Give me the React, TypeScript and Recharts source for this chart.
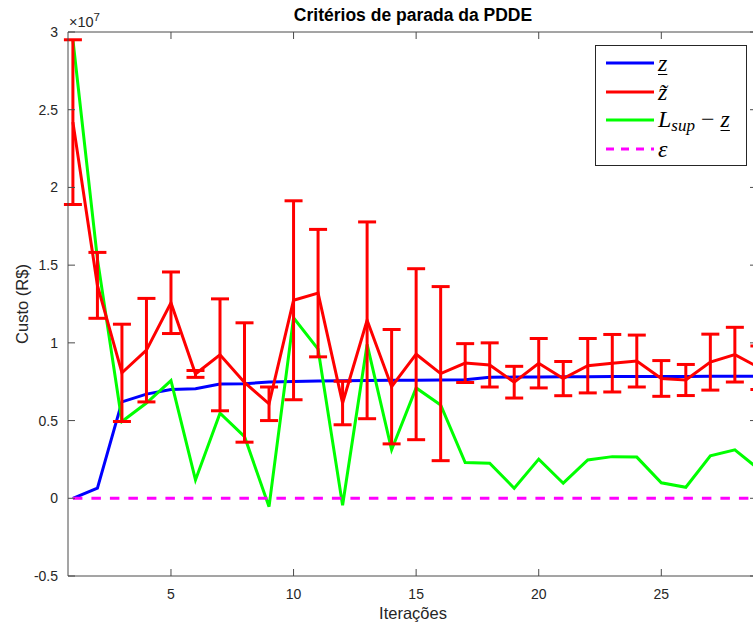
import React from 'react';
import { LineChart, Line, XAxis, YAxis, ErrorBar, ReferenceLine, Legend } from 'recharts';

// valores em unidades de 1e7 R$
const iterations = [1, 2, 3, 4, 5, 6, 7, 8, 9, 10, 11, 12, 13, 14, 15, 16, 17, 18, 19, 20, 21, 22, 23, 24, 25, 26, 27, 28, 29];
const zInf = [0, 0.065, 0.62, 0.67, 0.7, 0.705, 0.735, 0.737, 0.748, 0.752, 0.755, 0.756, 0.758, 0.76, 0.76, 0.761, 0.763, 0.778, 0.78, 0.781, 0.782, 0.782, 0.783, 0.783, 0.784, 0.784, 0.785, 0.785, 0.785];
const zTil = [2.42, 1.37, 0.807, 0.953, 1.258, 0.8, 0.923, 0.745, 0.608, 1.274, 1.32, 0.613, 1.145, 0.718, 0.927, 0.802, 0.87, 0.858, 0.747, 0.869, 0.77, 0.853, 0.869, 0.883, 0.771, 0.761, 0.876, 0.924, 0.84];
const zTilErr = [0.53, 0.212, 0.313, 0.333, 0.198, 0.022, 0.36, 0.384, 0.108, 0.64, 0.41, 0.14, 0.633, 0.368, 0.55, 0.56, 0.125, 0.142, 0.102, 0.159, 0.11, 0.175, 0.185, 0.167, 0.115, 0.1, 0.18, 0.176, 0.14];
const gap = [2.95, 1.54, 0.494, 0.613, 0.757, 0.118, 0.548, 0.397, -0.054, 1.161, 0.96, -0.045, 0.99, 0.312, 0.71, 0.6, 0.23, 0.226, 0.065, 0.252, 0.097, 0.247, 0.268, 0.265, 0.1, 0.071, 0.273, 0.312, 0.184];
const eps = [0, 0, 0, 0, 0, 0, 0, 0, 0, 0, 0, 0, 0, 0, 0, 0, 0, 0, 0, 0, 0, 0, 0, 0, 0, 0, 0, 0, 0];

const xTicks = [5, 10, 15, 20, 25];
const yTicks = [-0.5, 0, 0.5, 1, 1.5, 2, 2.5, 3];

const data = iterations.map((it, i) => ({
  it,
  zInf: zInf[i],
  zTil: zTil[i],
  zTilErr: zTilErr[i],
  gap: gap[i],
  eps: eps[i],
}));

// o quadro original passa um pouco da borda direita da imagem
const W = 753;
const H = 628;
const LEFT = 68;
const TOP = 32;
const BOX_RIGHT = 757;
const BOTTOM = 576;
const Y_AXIS_W = 60;
const X_AXIS_H = 30;
const TICK = 7;
const LW = 3;
const AXIS = '#4a4a4a';
const SANS = '"Liberation Sans", Arial, Helvetica, sans-serif';
const SERIF = '"Liberation Serif", "Times New Roman", serif';

const XTick = (props: any) => {
  const x = props.payload?.coordinate ?? props.x;
  return (
    <g>
      <line x1={x} x2={x} y1={BOTTOM} y2={BOTTOM - TICK} stroke={AXIS} strokeWidth={1} />
      <line x1={x} x2={x} y1={TOP} y2={TOP + TICK} stroke={AXIS} strokeWidth={1} />
      <text x={x} y={599} textAnchor="middle" fontSize={14} fontFamily={SANS} fill="#262626">
        {props.payload.value}
      </text>
    </g>
  );
};

const YTick = (props: any) => {
  const y = props.payload?.coordinate ?? props.y;
  return (
    <g>
      <line x1={LEFT} x2={LEFT + TICK} y1={y} y2={y} stroke={AXIS} strokeWidth={1} />
      <line x1={BOX_RIGHT} x2={BOX_RIGHT - TICK} y1={y} y2={y} stroke={AXIS} strokeWidth={1} />
      <text x={58} y={y + 5} textAnchor="end" fontSize={14} fontFamily={SANS} fill="#262626">
        {props.payload.value}
      </text>
    </g>
  );
};

const underline = { textDecoration: 'underline', textUnderlineOffset: 3, textDecorationThickness: 1 } as const;

const legendRows = [
  { color: '#0000ff', dash: undefined, label: <span style={underline}>z</span> },
  { color: '#ff0000', dash: undefined, label: <span>z&#771;</span> },
  {
    color: '#00ff00',
    dash: undefined,
    label: (
      <span>
        L<sub style={{ fontSize: 17, verticalAlign: -4, lineHeight: 1 }}>sup</sub>
        <span style={{ fontStyle: 'normal' }}>&nbsp;&minus;&nbsp;</span>
        <span style={underline}>z</span>
      </span>
    ),
  },
  { color: '#ff00ff', dash: '8 7', label: <span>&#949;</span> },
];

const LegendBox = () => (
  <div
    style={{
      position: 'relative',
      width: 152,
      height: 121,
      boxSizing: 'border-box',
      border: '1px solid #262626',
      background: '#fff',
    }}
  >
    {legendRows.map((r, i) => (
      <div key={i} style={{ position: 'absolute', left: 9, top: 17 + i * 28.7 - 12, height: 24, display: 'flex', alignItems: 'center' }}>
        <svg width={50} height={10} style={{ display: 'block' }}>
          <line x1={1} x2={49} y1={5} y2={5} stroke={r.color} strokeWidth={LW} strokeDasharray={r.dash} />
        </svg>
        <span style={{ marginLeft: 3, fontFamily: SERIF, fontStyle: 'italic', fontSize: 24, color: '#000', whiteSpace: 'nowrap', lineHeight: '24px' }}>
          {r.label}
        </span>
      </div>
    ))}
  </div>
);

export default function App() {
  return (
    <div style={{ position: 'fixed', left: 0, top: 0, width: W, height: H, overflow: 'hidden', background: '#fff' }}>
      <div style={{ position: 'absolute', left: 0, top: 5, width: 826, textAlign: 'center', fontFamily: SANS, fontWeight: 'bold', fontSize: 17.5, color: '#000' }}>
        Critérios de parada da PDDE
      </div>
      <div style={{ position: 'absolute', left: 69, top: 11, fontFamily: SANS, fontSize: 14.5, color: '#262626' }}>
        ×10<sup style={{ fontSize: 11.5, verticalAlign: 6 }}>7</sup>
      </div>
      <div style={{ position: 'absolute', left: 0, top: 604, width: 826, textAlign: 'center', fontFamily: SANS, fontSize: 16.5, color: '#262626' }}>
        Iterações
      </div>
      <div
        style={{
          position: 'absolute',
          left: 22,
          top: 304,
          transform: 'translate(-50%, -50%) rotate(-90deg)',
          fontFamily: SANS,
          fontSize: 16.5,
          color: '#262626',
          whiteSpace: 'nowrap',
        }}
      >
        Custo (R$)
      </div>
      <div style={{ position: 'absolute', left: 0, top: 0, width: W, height: H }}>
        <LineChart
          width={W}
          height={H}
          data={data}
          margin={{ top: TOP, right: 0, bottom: H - BOTTOM - X_AXIS_H, left: LEFT - Y_AXIS_W }}
        >
          <XAxis
            dataKey="it"
            type="number"
            domain={[0.8, 28.74]}
            allowDataOverflow
            ticks={xTicks}
            interval={0}
            height={X_AXIS_H}
            tickLine={false}
            tick={<XTick />}
            axisLine={{ stroke: AXIS, strokeWidth: 1 }}
          />
          <YAxis
            type="number"
            domain={[-0.5, 3]}
            allowDataOverflow
            ticks={yTicks}
            interval={0}
            width={Y_AXIS_W}
            tickLine={false}
            tick={<YTick />}
            axisLine={{ stroke: AXIS, strokeWidth: 1 }}
          />
          <ReferenceLine y={3} stroke={AXIS} strokeWidth={1} />
          <Line dataKey="zInf" type="linear" stroke="#0000ff" strokeWidth={LW} dot={false} isAnimationActive={false} />
          <Line dataKey="gap" type="linear" stroke="#00ff00" strokeWidth={LW} dot={false} isAnimationActive={false} />
          <Line dataKey="zTil" type="linear" stroke="#ff0000" strokeWidth={LW} dot={false} isAnimationActive={false}>
            <ErrorBar dataKey="zTilErr" direction="y" width={9} stroke="#ff0000" strokeWidth={LW} isAnimationActive={false} />
          </Line>
          <Line dataKey="eps" type="linear" stroke="#ff00ff" strokeWidth={LW} strokeDasharray="9.5 9" dot={false} isAnimationActive={false} />
          <Legend
            layout="vertical"
            align="center"
            verticalAlign="middle"
            wrapperStyle={{ position: 'absolute', left: 595, top: 45, width: 152, height: 121 }}
            content={() => <LegendBox />}
          />
        </LineChart>
      </div>
    </div>
  );
}
